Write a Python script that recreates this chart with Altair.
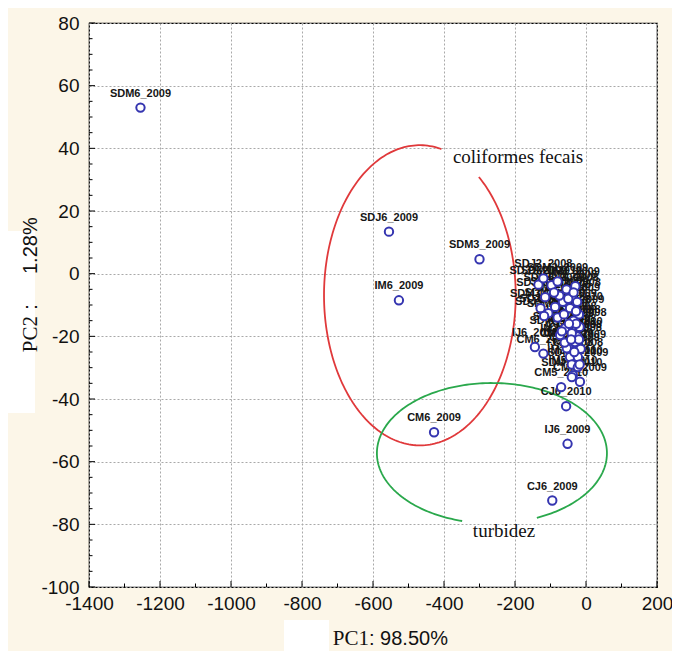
import altair as alt
import pandas as pd
import numpy as np

# ---------------- data ----------------
labels = ["SDM6_2009", "SDJ6_2009", "SDM3_2009", "IM6_2009", "CM6_2009",
          "IJ6_2009", "CJ6_2009", "CJ6_2010", "CM5_2010",
          "SDJ1_2009", "SDM1_2010", "SDJ2_2008", "SDM2_2009", "SDJ1_2008",
          "SDM1_2008", "IM1_2009", "IJ1_2009", "SDJ2_2010", "SDM2_2010",
          "SDJ3_2009", "CM1_2009", "CJ1_2009", "IM2_2008", "IJ2_2008",
          "CM2_2008", "SDM3_2008", "SDJ4_2009", "SDM4_2010", "SDJ5_2010",
          "CJ2_2010", "IM3_2008", "IJ6_2010", "CM6_2010", "IM4_2009",
          "CM3_2008", "CM3_2010", "IJ4_2008", "CJ4_2008", "IM3_2010",
          "SDM4_2009", "IM5_2010", "SDM5_2010", "CM4_2009", "CJ5_2009",
          "IJ5_2010", "SDM3_2010", "SDJ3_2010",
          "IJ1_2008", "CJ1_2008", "CM1_2008", "IM1_2008", "IJ3_2009",
          "CJ3_2009", "CM2_2010", "IM2_2010", "IJ3_2008", "CJ2_2009",
          "SDJ5_2009", "SDM5_2009"]
pc1 = [-1255, -555, -300, -527, -428,
       -52, -95, -56, -70,
       -134, -97, -120, -80, -40,
       -55, -30, -25, -115, -87,
       -106, -45, -20, -65, -35,
       -18, -80, -59, -73, -68,
       -25, -40, -144, -120, -50,
       -31, -54, -45, -23, -40,
       -23, -37, -40, -17, -15,
       -18, -128, -118,
       -50, -35, -62, -28, -48,
       -33, -28, -60, -20, -42,
       -75, -90]
pc2 = [53.0, 13.4, 4.6, -8.5, -50.6,
       -54.3, -72.4, -42.3, -36.2,
       -3.5, -3.7, -1.5, -2.5, -7.5,
       -5.0, -4.0, -9.0, -7.5, -10.6,
       -12.6, -11.0, -13.0, -9.0, -15.0,
       -17.0, -14.0, -17.4, -19.6, -18.4,
       -20.0, -19.0, -23.4, -25.5, -23.4,
       -21.8, -23.8, -26.6, -26.6, -29.0,
       -29.8, -32.4, -33.0, -34.5, -24.0,
       -29.0, -11.0, -13.5,
       -8.0, -6.0, -13.0, -16.0, -16.0,
       -25.0, -12.0, -22.0, -21.0, -21.0,
       -7.0, -6.0]

x_major = [-1400, -1200, -1000, -800, -600, -400, -200, 0, 200]
x_minor = [-1300, -1100, -900, -700, -500, -300, -100, 100]
y_major = [-100, -80, -60, -40, -20, 0, 20, 40, 60, 80]
y_minor = [v for v in range(-100, 81, 5) if v % 20 != 0]

# ellipse annotations (centre, radii in data units, gap in degrees)
ell_names = ["coliformes", "turbidez"]
ell_cx = [-468, -265]
ell_cy = [-6.9, -57.3]
ell_rx = [270, 324]
ell_ry = [47.9, 22.4]
ell_gap_start = [52, 255]
ell_gap_end = [77, 293]
ell_colors = ["#e0393b", "#2aa84c"]

ann_text = ["coliformes fecais", "turbidez"]
ann_x = [-375, -231]
ann_y = [37.2, -82]
ann_align = ["left", "center"]

W, H = 568, 564
BG = "#fcf6e8"
SANS = "Liberation Sans, Arial"
SERIF = "Liberation Serif, Times New Roman"

# ---------------- frames ----------------
pts = pd.DataFrame({"label": labels, "pc1": pc1, "pc2": pc2})

rows = []
for n, cx, cy, rx, ry, g0, g1 in zip(ell_names, ell_cx, ell_cy, ell_rx, ell_ry,
                                    ell_gap_start, ell_gap_end):
    ts = np.linspace(g1, g0 + 360, 240)
    for i, t in enumerate(ts):
        r = np.deg2rad(t)
        rows.append({"name": n, "i": i, "x": cx + rx * np.cos(r), "y": cy + ry * np.sin(r)})
ell = pd.DataFrame(rows)

ann = pd.DataFrame({"t": ann_text, "x": ann_x, "y": ann_y, "a": ann_align})

xs = alt.Scale(domain=[-1400, 200], nice=False, zero=False)
ys = alt.Scale(domain=[-100, 80], nice=False, zero=False)

x_axis = alt.Axis(values=x_major, title=None, ticks=False, domain=False,
                  grid=True, gridDash=[2, 2], gridColor="#a9a9a9", gridWidth=1,
                  labelFont=SANS, labelFontSize=19, labelColor="#111111",
                  labelPadding=7, labelExpr="datum.value + ''", labelFlush=False)
y_axis = alt.Axis(values=y_major, title=None, ticks=False, domain=False,
                  grid=True, gridDash=[2, 2], gridColor="#a9a9a9", gridWidth=1,
                  labelFont=SANS, labelFontSize=19, labelColor="#111111",
                  labelPadding=10, labelExpr="datum.value + ''")

base_grid = alt.Chart(pts).mark_point(opacity=0).encode(
    x=alt.X("pc1:Q", scale=xs, axis=x_axis),
    y=alt.Y("pc2:Q", scale=ys, axis=y_axis),
)

# inward ticks
ytm = alt.Chart(pd.DataFrame({"v": y_major})).mark_rule(color="black", strokeWidth=1).encode(
    y=alt.Y("v:Q", scale=ys), x=alt.value(0), x2=alt.value(6))
ytn = alt.Chart(pd.DataFrame({"v": y_minor})).mark_rule(color="black", strokeWidth=1).encode(
    y=alt.Y("v:Q", scale=ys), x=alt.value(0), x2=alt.value(3.5))
xtm = alt.Chart(pd.DataFrame({"v": x_major})).mark_rule(color="black", strokeWidth=1).encode(
    x=alt.X("v:Q", scale=xs), y=alt.value(H), y2=alt.value(H - 6))
xtn = alt.Chart(pd.DataFrame({"v": x_minor})).mark_rule(color="black", strokeWidth=1).encode(
    x=alt.X("v:Q", scale=xs), y=alt.value(H), y2=alt.value(H - 3.5))

ellipses = alt.Chart(ell).mark_line(strokeWidth=1.8).encode(
    x=alt.X("x:Q", scale=xs),
    y=alt.Y("y:Q", scale=ys),
    order="i:Q",
    detail="name:N",
    color=alt.Color("name:N", scale=alt.Scale(domain=ell_names, range=ell_colors), legend=None),
)

ann_left = alt.Chart(ann[ann["a"] == "left"]).mark_text(
    font=SERIF, fontSize=19, color="#111111", align="left", baseline="middle").encode(
    x=alt.X("x:Q", scale=xs), y=alt.Y("y:Q", scale=ys), text="t:N")
ann_center = alt.Chart(ann[ann["a"] == "center"]).mark_text(
    font=SERIF, fontSize=19, color="#111111", align="center", baseline="middle").encode(
    x=alt.X("x:Q", scale=xs), y=alt.Y("y:Q", scale=ys), text="t:N")

point_labels = alt.Chart(pts).mark_text(
    font="Liberation Sans, Arial", fontSize=11, fontWeight="bold", color="#161616",
    dy=-14, align="center", baseline="middle").encode(
    x=alt.X("pc1:Q", scale=xs), y=alt.Y("pc2:Q", scale=ys), text="label:N")

points = alt.Chart(pts).mark_point(
    shape="circle", size=70, filled=False, fill="white", fillOpacity=1,
    stroke="#3535b0", strokeWidth=2, opacity=1).encode(
    x=alt.X("pc1:Q", scale=xs), y=alt.Y("pc2:Q", scale=ys))

one = pd.DataFrame({"k": [0]})
white_box_x = alt.Chart(one).mark_rect(color="white").encode(
    x=alt.value(195), x2=alt.value(240), y=alt.value(597), y2=alt.value(630))
white_box_y = alt.Chart(one).mark_rect(color="white").encode(
    x=alt.value(-81), x2=alt.value(-54), y=alt.value(208), y2=alt.value(390))

pc1_a = alt.Chart(one).mark_text(font=SERIF, fontSize=21, color="#111111",
                                 align="right", baseline="middle").encode(
    x=alt.value(280), y=alt.value(616), text=alt.value("PC1"))
pc1_b = alt.Chart(one).mark_text(font=SANS, fontSize=20, color="#111111",
                                 align="left", baseline="middle").encode(
    x=alt.value(280), y=alt.value(616), text=alt.value(": 98.50%"))
pc2_a = alt.Chart(one).mark_text(font=SERIF, fontSize=21, color="#111111", angle=270,
                                 align="right", baseline="middle").encode(
    x=alt.value(-58), y=alt.value(293), text=alt.value("PC2"))
pc2_c = alt.Chart(one).mark_text(font=SANS, fontSize=20, color="#111111", angle=270,
                                 align="center", baseline="middle").encode(
    x=alt.value(-58), y=alt.value(284), text=alt.value(":"))
pc2_b = alt.Chart(one).mark_text(font=SANS, fontSize=20, color="#111111", angle=270,
                                 align="left", baseline="middle").encode(
    x=alt.value(-58), y=alt.value(251), text=alt.value("1.28%"))

chart = alt.layer(
    white_box_x, white_box_y, base_grid, ytm, ytn, xtm, xtn, ellipses,
    ann_left, ann_center, point_labels, points, pc1_a, pc1_b, pc2_a, pc2_c, pc2_b
).properties(
    width=W, height=H,
    autosize=alt.AutoSizeParams(type="none"),
    padding={"left": 81, "top": 15, "right": 15, "bottom": 64},
    background=BG,
).configure_view(
    fill="white", stroke="black", strokeWidth=1.2
)

chart.save("out.html", embed_options={"renderer": "svg", "actions": False})
